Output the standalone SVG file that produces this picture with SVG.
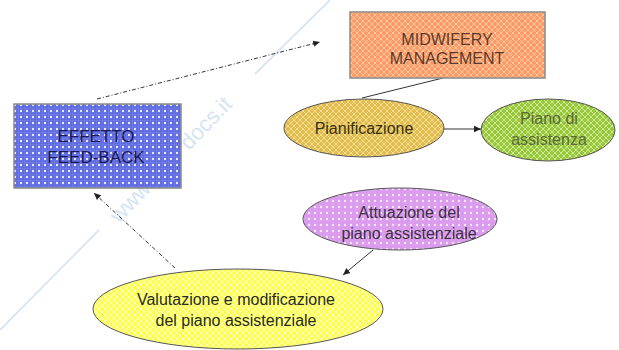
<svg xmlns="http://www.w3.org/2000/svg" width="619" height="350" viewBox="0 0 619 350">
<defs>
<style>
.t{font-family:"Liberation Sans",Arial,sans-serif;font-size:16px;text-anchor:middle}
.box{stroke:#8a8a8a;stroke-width:1.5}
.ell{stroke:#555;stroke-width:1}
.wm{stroke:#dbe7f3;stroke-width:2;fill:none}
.wmt{font-family:"Liberation Sans",Arial,sans-serif;font-size:22px;fill:#d6e4f2}
.solid{stroke:#333;stroke-width:1;fill:none}
.dash{stroke:#333;stroke-width:1;fill:none;stroke-dasharray:4 2 1 2}
</style>
<pattern id="pOr" width="6" height="6" patternUnits="userSpaceOnUse">
<rect width="6" height="6" fill="#ff9a66"/>
<path d="M0 0L6 6M6 0L0 6" stroke="#ffc8a0" stroke-width="1"/>
</pattern>
<pattern id="pBl" width="6" height="6" patternUnits="userSpaceOnUse">
<rect width="6" height="6" fill="#5f6be0"/>
<circle cx="3" cy="3" r="1.2" fill="#e8ecff"/>
<path d="M0 0h6M0 0v6" stroke="#8890ee" stroke-width="0.6"/>
</pattern>
<pattern id="pGo" width="6" height="6" patternUnits="userSpaceOnUse">
<rect width="6" height="6" fill="#e2bd4c"/>
<path d="M0 0L6 6M6 0L0 6" stroke="#f2dc98" stroke-width="1"/>
</pattern>
<pattern id="pGr" width="6" height="6" patternUnits="userSpaceOnUse">
<rect width="6" height="6" fill="#97c837"/>
<path d="M0 0L6 6M6 0L0 6" stroke="#cfe79a" stroke-width="1"/>
</pattern>
<pattern id="pLi" width="6" height="6" patternUnits="userSpaceOnUse">
<rect width="6" height="6" fill="#dc9cee"/>
<circle cx="3" cy="3" r="1.2" fill="#f6e6fb"/>
</pattern>
<pattern id="pYe" width="6" height="6" patternUnits="userSpaceOnUse">
<rect width="6" height="6" fill="#ffff4d"/>
<path d="M0 0L6 6M6 0L0 6" stroke="#ffffc8" stroke-width="1"/>
</pattern>
<marker id="ah" markerWidth="8" markerHeight="8" refX="7" refY="4" orient="auto" markerUnits="userSpaceOnUse">
<path d="M0 0.8L7 4L0 7.2Z" fill="#222"/>
</marker>
</defs>
<rect width="619" height="350" fill="#fff"/>
<g id="watermark">
<path class="wm" d="M0 330L99 230M255 74L330 0"/>
<text class="wmt" x="0" y="0" transform="translate(119,224) rotate(-46)">www.</text>
<text class="wmt" x="0" y="0" transform="translate(189,151) rotate(-46)">docs.it</text>
</g>
<g id="connectors">
<path class="dash" d="M97 99L320 42" marker-end="url(#ah)"/>
<path class="dash" d="M175 268L94 193" marker-end="url(#ah)"/>
<path class="solid" d="M443 78L362 98"/>
<path class="solid" d="M444 129L481 129" marker-end="url(#ah)"/>
<path class="solid" d="M373 250L343 275" marker-end="url(#ah)"/>
</g>
<g id="midwifery">
<rect class="box" x="350" y="12" width="195" height="66" fill="url(#pOr)"/>
<text class="t" x="447" y="45" fill="#5a3a2a">MIDWIFERY</text>
<text class="t" x="447" y="64" fill="#5a3a2a">MANAGEMENT</text>
</g>
<g id="effetto">
<rect class="box" x="14" y="104" width="167" height="84" fill="url(#pBl)"/>
<text class="t" x="96" y="142" fill="#1a1a50" style="font-size:17px">EFFETTO</text>
<text class="t" x="96" y="163" fill="#1a1a50" style="font-size:17px">FEED-BACK</text>
</g>
<g id="pianificazione">
<ellipse class="ell" cx="364" cy="128" rx="80" ry="29" fill="url(#pGo)"/>
<text class="t" x="364" y="134" fill="#3a3010">Pianificazione</text>
</g>
<g id="piano">
<ellipse class="ell" cx="548" cy="130" rx="67" ry="31" fill="url(#pGr)"/>
<text class="t" x="549" y="124" fill="#5a6a3a">Piano di</text>
<text class="t" x="549" y="145" fill="#5a6a3a">assistenza</text>
</g>
<g id="attuazione">
<ellipse class="ell" cx="400" cy="219" rx="97" ry="31" fill="url(#pLi)"/>
<text class="t" x="409" y="218" fill="#3a3040">Attuazione del</text>
<text class="t" x="409" y="239" fill="#3a3040">piano assistenziale</text>
</g>
<g id="valutazione">
<ellipse class="ell" cx="238" cy="309" rx="145" ry="40" fill="url(#pYe)"/>
<text class="t" x="236" y="305" fill="#2a2a20">Valutazione e modificazione</text>
<text class="t" x="236" y="326" fill="#2a2a20">del piano assistenziale</text>
</g>
</svg>
